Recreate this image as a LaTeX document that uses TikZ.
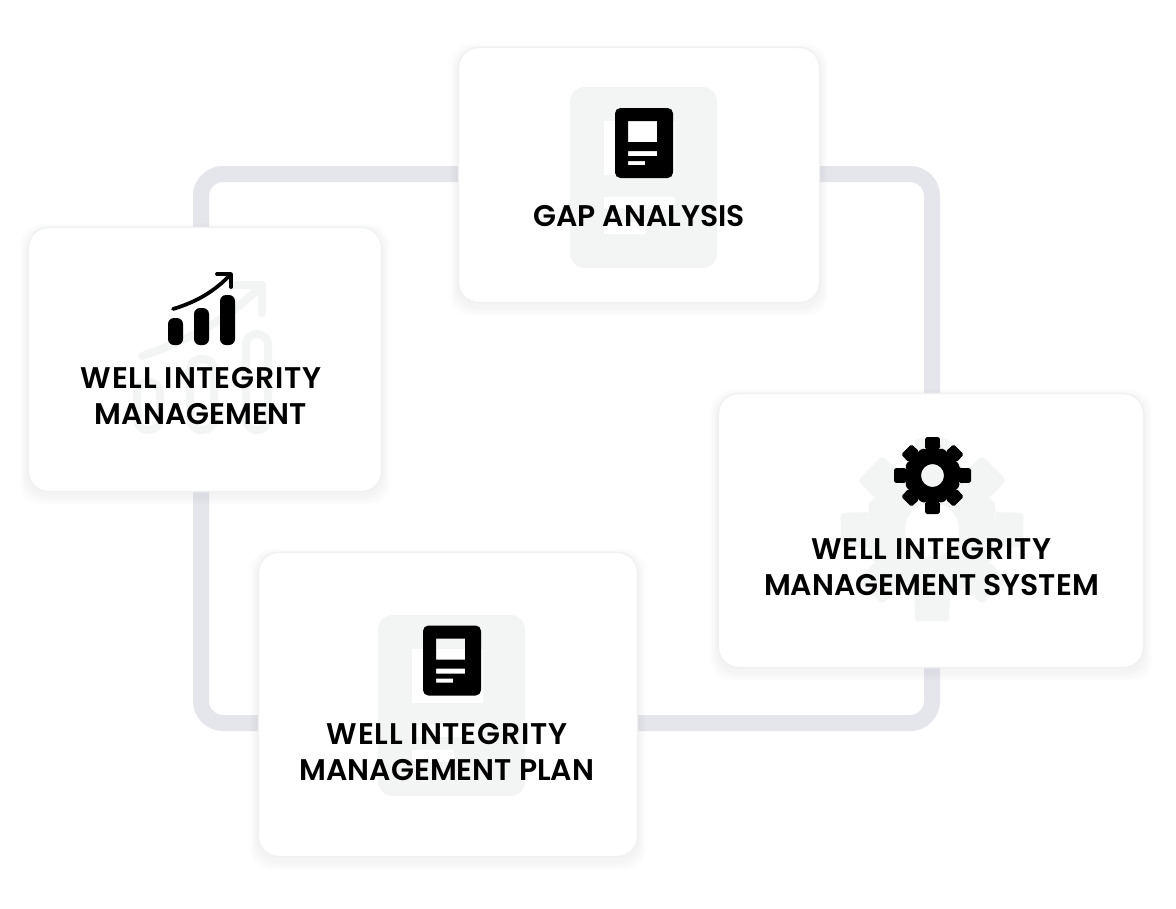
\documentclass[tikz,border=0pt]{standalone}
\usepackage{fontspec}
\setmainfont{Poppins}
\newfontfamily\labfont{Poppins SemiBold}
\newfontfamily\labwide[LetterSpace=2.6]{Poppins SemiBold}
\usetikzlibrary{fit}
\definecolor{ringc}{HTML}{E5E6EB}
\definecolor{ghost}{HTML}{F3F5F4}
\definecolor{edgec}{HTML}{F0F1F1}
\definecolor{shade}{HTML}{8A8F98}
\tikzset{
  x=0.75pt,y=-0.75pt,
  card/.style={draw=edgec,line width=1.1pt,fill=white,rounded corners=15pt,inner sep=0.4pt},
  label/.style={font=\labfont\fontsize{22.4pt}{27pt}\selectfont,align=center,text=black,inner sep=0pt},
  ghostline/.style={draw=ghost,line width=6pt,line cap=round,line join=round}
}
\newcommand{\cardbox}[5]{%
  \foreach \g/\o in {9/0.005,7/0.006,5/0.007,3/0.008,1.5/0.009}{
    \fill[shade,opacity=\o,rounded corners=16pt] (#2-\g,#3+4-\g) rectangle (#4+\g,#5+6+\g);
  }
  \coordinate (#1a) at (#2,#3);
  \coordinate (#1b) at (#4,#5);
  \node[card,fit=(#1a)(#1b)] (#1) {};
}
% ghost document, then black document
\newcommand{\docghost}[2]{\begin{scope}[shift={(#1,#2)}]
  \fill[ghost,rounded corners=11pt] (570,87) rectangle (717,268);
  \fill[white] (604,121) rectangle (675,175);
  \fill[white] (604,197) rectangle (675,209);
  \fill[white] (604,222) rectangle (646,234);
\end{scope}}
\newcommand{\docblack}[2]{\begin{scope}[shift={(#1,#2)}]
  \fill[black,even odd rule] [rounded corners=4pt] (615,108) rectangle (673,178)
    [sharp corners] (628,121) rectangle (657,142)
    (628,151) rectangle (657,156)
    (628,161) rectangle (645,165);
\end{scope}}
\newcommand{\gearshape}[5]{\begin{scope}[shift={(#1,#2)},scale=#3]
  \fill[#4,even odd rule,rounded corners=#5] (26.5,-7.6)
    \foreach \a/\r in {0/38.5,45/37,90/38.5,135/37,180/38.5,225/37,270/38.5,315/37}{
      -- ([rotate=\a]26.5,-7.6) -- ([rotate=\a]\r,-7.2) -- ([rotate=\a]\r,7.2) -- ([rotate=\a]26.5,7.6)
      -- ([rotate=\a+22.5]29,0)
    } -- cycle
    [sharp corners] (0,0) circle (11.5);
\end{scope}}
\begin{document}
\begin{tikzpicture}
\useasboundingbox (0,0) rectangle (1176,908);
\fill[white] (0,0) rectangle (1176,908);
% ring
\coordinate (ringa) at (201,174);
\coordinate (ringb) at (932,723);
\draw[ringc,line width=12pt,rounded corners=16.5pt] (ringa) rectangle (ringb);
% cards
\cardbox{gap}{459}{48}{819}{302}
\cardbox{wim}{29}{228}{381}{491}
\cardbox{sys}{719}{394}{1143}{667}
\cardbox{plan}{259}{553}{637}{856}
% gap analysis icon
\docghost{0}{0}
\docblack{0}{0}
% plan icon
\docghost{-192}{528}
\docblack{-192}{517.5}
% chart ghost
\draw[ghostline] (142,356) .. controls (190,340) and (230,318) .. (262,285);
\draw[ghostline] (233,285) -- (262,285) -- (262,313);
\draw[ghostline,rounded corners=8pt] (137,382) rectangle (160,430);
\draw[ghostline,rounded corners=8pt] (190,359) rectangle (214,430);
\draw[ghostline,rounded corners=8pt] (246,334) rectangle (268,430);
% chart
\fill[black,rounded corners=4.5pt] (168,318) rectangle (183,345);
\fill[black,rounded corners=4.5pt] (194,308) rectangle (209,345);
\fill[black,rounded corners=4.5pt] (220,295) rectangle (235,345);
\draw[black,line width=2.8pt,line cap=round] (173,309) .. controls (196,302) and (214,292) .. (231,274);
\draw[black,line width=2.8pt,line cap=round,line join=round] (217,274) -- (231,274) -- (231,287);
% gears
\gearshape{932}{530}{2.37}{ghost}{2.5pt}
\gearshape{932.5}{475.5}{1}{black}{1.2pt}
% labels
\node[label] (gaplabel) at (639,216) {GAP ANALYSIS};
\node[label] (wimlabel) at (201,396) {{\labwide WELL INTEGRITY}\\MANAGEMENT};
\node[label] (syslabel) at (931.5,567) {{\labwide WELL INTEGRITY}\\MANAGEMENT SYSTEM};
\node[label] (planlabel) at (447,752) {{\labwide WELL INTEGRITY}\\MANAGEMENT PLAN};
\end{tikzpicture}
\end{document}
